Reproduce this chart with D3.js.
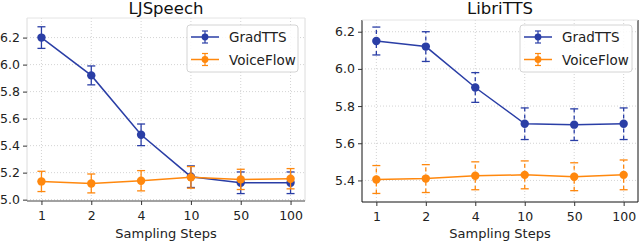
<!DOCTYPE html>
<html>
<head>
<meta charset="utf-8">
<script src="https://cdn.jsdelivr.net/npm/d3@7"></script>
<style>
body { margin: 0; background: #fff; }
svg { display: block; font-family: "DejaVu Sans", sans-serif; }
</style>
</head>
<body>
<div id="chart"></div>
<script>
// sampling steps shown as evenly spaced categories
var steps = ["1", "2", "4", "10", "50", "100"];
var seriesNames = ["GradTTS", "VoiceFlow"];

var ljGrad = [6.20, 5.92, 5.48, 5.17, 5.125, 5.125];
var ljGradErr = [0.08, 0.07, 0.08, 0.08, 0.08, 0.08];
var ljVoice = [5.135, 5.12, 5.14, 5.165, 5.15, 5.155];
var ljVoiceErr = [0.075, 0.07, 0.075, 0.08, 0.075, 0.075];

var libriGrad = [6.15, 6.12, 5.90, 5.705, 5.70, 5.705];
var libriGradErr = [0.075, 0.08, 0.08, 0.085, 0.085, 0.085];
var libriVoice = [5.405, 5.41, 5.425, 5.43, 5.42, 5.43];
var libriVoiceErr = [0.075, 0.075, 0.075, 0.075, 0.075, 0.08];

var ljTicks = [5.0, 5.2, 5.4, 5.6, 5.8, 6.0, 6.2];
var libriTicks = [5.4, 5.6, 5.8, 6.0, 6.2];

var colors = {GradTTS: "#2a3ea6", VoiceFlow: "#ff880e"};

var svg = d3.select("#chart").append("svg")
	.attr("width", 640)
	.attr("height", 243);

var panels = [
	{
		title: "LJSpeech", left: 27, right: 305, top: 18, bottom: 201,
		yDomain: [4.99, 6.345], ticks: ljTicks, dashed: false, darkFrame: false,
		series: [
			{name: "GradTTS", vals: ljGrad, errs: ljGradErr},
			{name: "VoiceFlow", vals: ljVoice, errs: ljVoiceErr}
		],
		legend: {x: 187, y: 25, w: 111, h: 47}
	},
	{
		title: "LibriTTS", left: 362, right: 638, top: 20, bottom: 202,
		yDomain: [5.284, 6.263], ticks: libriTicks, dashed: true, darkFrame: true,
		series: [
			{name: "GradTTS", vals: libriGrad, errs: libriGradErr},
			{name: "VoiceFlow", vals: libriVoice, errs: libriVoiceErr}
		],
		legend: {x: 520, y: 25, w: 112, h: 47}
	}
];

panels.forEach(function(p) {
	var x = d3.scalePoint()
		.domain(steps)
		.range([p.left, p.right])
		.padding(0.29);
	var y = d3.scaleLinear()
		.domain(p.yDomain)
		.range([p.bottom, p.top]);

	var g = svg.append("g");

	// grid
	g.append("g").selectAll("line.gx")
		.data(steps)
		.enter().append("line")
		.attr("x1", d => x(d)).attr("x2", d => x(d))
		.attr("y1", p.top).attr("y2", p.bottom)
		.attr("stroke", "#c8c8c8")
		.attr("stroke-width", 0.8)
		.attr("stroke-dasharray", "1,2");
	g.append("g").selectAll("line.gy")
		.data(p.ticks)
		.enter().append("line")
		.attr("x1", p.left).attr("x2", p.right)
		.attr("y1", d => y(d)).attr("y2", d => y(d))
		.attr("stroke", "#c8c8c8")
		.attr("stroke-width", 0.8)
		.attr("stroke-dasharray", "1,2");

	// frame
	var frameCol = p.darkFrame ? "#111" : "#dcdcdc";
	g.append("line")
		.attr("x1", p.left).attr("x2", p.left)
		.attr("y1", p.top).attr("y2", p.bottom)
		.attr("stroke", frameCol);
	g.append("line")
		.attr("x1", p.right).attr("x2", p.right)
		.attr("y1", p.top).attr("y2", p.bottom)
		.attr("stroke", frameCol);
	g.append("line")
		.attr("x1", p.left).attr("x2", p.right)
		.attr("y1", p.top).attr("y2", p.top)
		.attr("stroke", "#e4e4e4");
	g.append("line")
		.attr("x1", p.left).attr("x2", p.right)
		.attr("y1", p.bottom).attr("y2", p.bottom)
		.attr("stroke", p.darkFrame ? "#111" : "#444");

	// axes
	var xAxis = g.append("g")
		.attr("transform", "translate(0," + p.bottom + ")")
		.call(d3.axisBottom(x).tickSize(4).tickPadding(6));
	var yAxis = g.append("g")
		.attr("transform", "translate(" + p.left + ",0)")
		.call(d3.axisLeft(y).tickValues(p.ticks).tickFormat(d3.format(".1f")).tickSize(4).tickPadding(3));
	[xAxis, yAxis].forEach(function(a) {
		a.select(".domain").remove();
		a.selectAll("line").attr("stroke", "#333");
		a.selectAll("text")
			.attr("font-family", "DejaVu Sans")
			.attr("font-size", 12.5)
			.attr("fill", "#222");
	});

	// series
	p.series.forEach(function(s) {
		var col = colors[s.name];
		var sg = g.append("g");
		sg.selectAll("line.err")
			.data(s.vals)
			.enter().append("line")
			.attr("x1", (d, i) => x(steps[i])).attr("x2", (d, i) => x(steps[i]))
			.attr("y1", (d, i) => y(d - s.errs[i]))
			.attr("y2", (d, i) => y(d + s.errs[i]))
			.attr("stroke", col)
			.attr("stroke-width", 1.3)
			.attr("stroke-dasharray", p.dashed ? "4,3" : null);
		[-1, 1].forEach(function(sign) {
			sg.selectAll("line.cap" + sign)
				.data(s.vals)
				.enter().append("line")
				.attr("x1", (d, i) => x(steps[i]) - 4).attr("x2", (d, i) => x(steps[i]) + 4)
				.attr("y1", (d, i) => y(d + sign * s.errs[i]))
				.attr("y2", (d, i) => y(d + sign * s.errs[i]))
				.attr("stroke", col)
				.attr("stroke-width", 1.3);
		});
		sg.append("path")
			.datum(s.vals)
			.attr("fill", "none")
			.attr("stroke", col)
			.attr("stroke-width", 1.5)
			.attr("d", d3.line().x((d, i) => x(steps[i])).y(d => y(d)));
		sg.selectAll("circle")
			.data(s.vals)
			.enter().append("circle")
			.attr("cx", (d, i) => x(steps[i]))
			.attr("cy", d => y(d))
			.attr("r", 4.2)
			.attr("fill", col);
	});

	// title and x label
	g.append("text")
		.attr("x", (p.left + p.right) / 2)
		.attr("y", 14)
		.attr("text-anchor", "middle")
		.attr("font-size", 16.5)
		.attr("fill", "#111")
		.text(p.title);
	g.append("text")
		.attr("x", (p.left + p.right) / 2)
		.attr("y", 238)
		.attr("text-anchor", "middle")
		.attr("font-size", 13)
		.attr("fill", "#222")
		.text("Sampling Steps");

	// legend
	var L = p.legend;
	var lg = g.append("g").attr("transform", "translate(" + L.x + "," + L.y + ")");
	lg.append("rect")
		.attr("width", L.w).attr("height", L.h)
		.attr("rx", 3)
		.attr("fill", "#fff")
		.attr("fill-opacity", 0.85)
		.attr("stroke", "#d4d4d4");
	seriesNames.forEach(function(name, i) {
		var cy = 12 + i * 22.5;
		var col = colors[name];
		var row = lg.append("g").attr("transform", "translate(0," + cy + ")");
		row.append("line")
			.attr("x1", 4).attr("x2", 32)
			.attr("stroke", col).attr("stroke-width", 1.5);
		row.append("line")
			.attr("x1", 18).attr("x2", 18).attr("y1", -6).attr("y2", 6)
			.attr("stroke", col).attr("stroke-width", 1.2);
		row.append("line")
			.attr("x1", 15).attr("x2", 21).attr("y1", -6).attr("y2", -6)
			.attr("stroke", col).attr("stroke-width", 1.2);
		row.append("line")
			.attr("x1", 15).attr("x2", 21).attr("y1", 6).attr("y2", 6)
			.attr("stroke", col).attr("stroke-width", 1.2);
		row.append("circle")
			.attr("cx", 18).attr("r", 3.4).attr("fill", col);
		row.append("text")
			.attr("x", 42).attr("y", 5)
			.attr("font-size", 13.5)
			.attr("fill", "#222")
			.text(name);
	});
});
</script>
</body>
</html>
